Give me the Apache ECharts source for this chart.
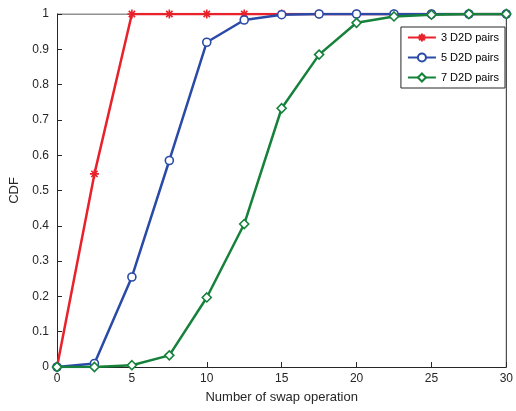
<!DOCTYPE html>
<html>
<head>
<meta charset="utf-8">
<script src="https://cdn.jsdelivr.net/npm/echarts@6/dist/echarts.min.js"></script>
<style>html,body{margin:0;padding:0;background:#fff}#c{width:516px;height:411px}</style>
</head>
<body>
<div id="c"></div>
<script>
// x positions and CDF values
var xs = [0, 2.5, 5, 7.5, 10, 12.5, 15, 17.5, 20, 22.5, 25, 27.5, 30];
var pairs3 = [0, 0.547, 1, 1, 1, 1, 1, 1, 1, 1, 1, 1, 1];
var pairs5 = [0, 0.01, 0.255, 0.585, 0.92, 0.983, 0.998, 1, 1, 1, 1, 1, 1];
var pairs7 = [0, 0, 0.005, 0.033, 0.197, 0.405, 0.733, 0.885, 0.975, 0.993, 0.998, 1, 1];

function zip(ys) {
	return xs.map(function (x, i) { return [x, ys[i]]; });
}

var chart = echarts.init(document.getElementById('c'));
var font = 'Liberation Sans, Arial, sans-serif';
var axisLine = { show: true, lineStyle: { color: '#262626', width: 1 } };

function mk(name, ys, color, symbol, size) {
	return {
		name: name,
		type: 'line',
		data: zip(ys),
		symbol: symbol,
		symbolSize: size,
		lineStyle: { color: color, width: 2.5 },
		itemStyle: { color: '#fff', borderColor: color, borderWidth: 1.6 },
		emphasis: { disabled: true }
	};
}

chart.setOption({
	backgroundColor: '#ffffff',
	animation: false,
	textStyle: { fontFamily: font },
	grid: { left: 57, right: 9, top: 14, bottom: 44 },
	legend: {
		right: 11, top: 27, orient: 'vertical',
		backgroundColor: '#fff', borderColor: '#262626', borderWidth: 1,
		padding: [5, 6], itemGap: 9, itemWidth: 28, itemHeight: 10,
		textStyle: { fontSize: 11, color: '#000', fontFamily: font },
		data: ['3 D2D pairs', '5 D2D pairs', '7 D2D pairs']
	},
	xAxis: {
		type: 'value', min: 0, max: 30, interval: 5,
		name: 'Number of swap operation', nameLocation: 'middle', nameGap: 24,
		nameTextStyle: { fontSize: 13, color: '#262626' },
		axisLine: axisLine,
		axisTick: { inside: true, lineStyle: { color: '#262626' } },
		axisLabel: { fontSize: 12, color: '#262626', margin: 6 },
		splitLine: { show: false }
	},
	yAxis: {
		type: 'value', min: 0, max: 1, interval: 0.1,
		name: 'CDF', nameLocation: 'middle', nameGap: 34,
		nameTextStyle: { fontSize: 13, color: '#262626' },
		axisLine: axisLine,
		axisTick: { inside: true, lineStyle: { color: '#262626' } },
		axisLabel: { fontSize: 12, color: '#262626', margin: 8,
			formatter: function (v) { return String(Math.round(v * 10) / 10); } },
		splitLine: { show: false }
	},
	series: [
		mk('3 D2D pairs', pairs3, '#e8212a', 'path://M0,-10L0,10M-10,0L10,0M-7,-7L7,7M-7,7L7,-7', 9),
		mk('5 D2D pairs', pairs5, '#2a4aa8', 'circle', 8),
		mk('7 D2D pairs', pairs7, '#15813a', 'diamond', 9),
		{ type: 'line', data: [[0, 1], [30, 1]], symbol: 'none', silent: true,
			lineStyle: { color: '#262626', width: 1 }, z: 0 },
		{ type: 'line', data: [[30, 0], [30, 1]], symbol: 'none', silent: true,
			lineStyle: { color: '#262626', width: 1 }, z: 0 }
	]
});
</script>
</body>
</html>
